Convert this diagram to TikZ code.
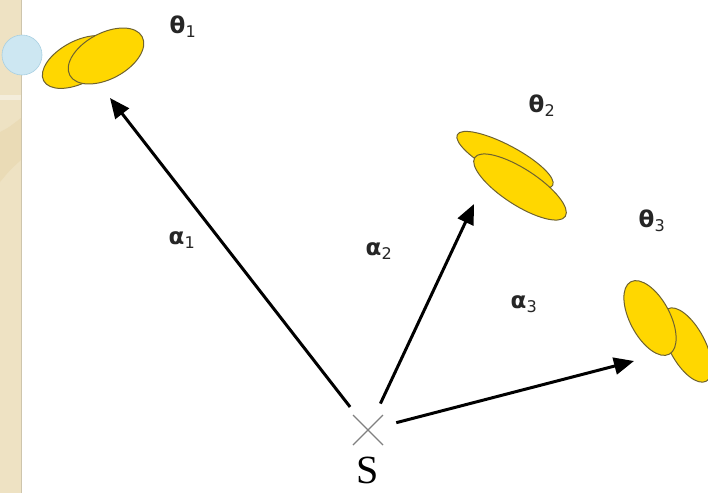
\documentclass[tikz,border=0pt]{standalone}
\usepackage{fontspec}
\setmainfont{DejaVu Sans}
\newfontfamily\serifS{Liberation Serif}
\usetikzlibrary{arrows.meta, calc}
\definecolor{StripBg}{HTML}{EEE2C3}
\definecolor{StripDark}{HTML}{EADBB6}
\definecolor{StripLine}{HTML}{CEC5AC}
\definecolor{BubbleBlue}{HTML}{CDE7F2}
\definecolor{BubbleEdge}{HTML}{A8D0E2}
\definecolor{DiscYellow}{HTML}{FFD700}
\definecolor{DiscEdge}{HTML}{6E6230}
\tikzset{
    disc/.style={fill=DiscYellow, draw=DiscEdge, line width=1pt},
    arr/.style={-{Triangle[length=20pt, width=17pt]}, line width=3pt, draw=black},
    lbl/.style={font=\fontsize{23}{26}\selectfont, text=black!85},
    crs/.style={draw=gray, line width=1.2pt},
}

\begin{document}
\begin{tikzpicture}[x=1pt, y=-1pt]
\useasboundingbox (0,0) rectangle (708,493);

% Background strip
\fill[StripBg] (0,0) rectangle (21,493);
\fill[StripDark] (0,132) .. controls (8,128) .. (21,118) -- (21,160) .. controls (10,170) .. (0,182) -- cycle;
\fill[white, opacity=0.4] (0,95) rectangle (21,100);
\draw[StripLine, line width=1pt] (21,0) -- (21,493);
\fill[BubbleBlue, draw=BubbleEdge, line width=0.6pt] (22,55) circle (20);

% Discs
\draw[disc] (79,62) ellipse [x radius=40, y radius=21, rotate=28];
\draw[disc] (106,56) ellipse [x radius=41, y radius=23, rotate=28];
\draw[disc] (505,160) ellipse [x radius=54, y radius=15, rotate=-28];
\draw[disc] (520,187) ellipse [x radius=54, y radius=18, rotate=-33];
\draw[disc] (687,345) ellipse [x radius=41, y radius=18, rotate=-62];
\draw[disc] (650,318) ellipse [x radius=41, y radius=20, rotate=-62];

% Source
\node[circle, minimum size=58pt, inner sep=0pt] (s) at (368,430) {};
\draw[crs] ($(s)+(-15,-15)$) -- ($(s)+(15,15)$);
\draw[crs] ($(s)+(15,-15)$) -- ($(s)+(-15,15)$);
\node[font=\serifS\fontsize{40}{44}\selectfont] (slbl) at (368,470) {S};

% Arrow tips
\coordinate (t1) at (110,98);
\coordinate (t2) at (474,204);
\coordinate (t3) at (634,361);

% Arrows
\draw[arr] (s) -- (t1);
\draw[arr] (s) -- (t2);
\draw[arr] (s) -- (t3);

% Labels
\node[lbl] (th1) at (183,27) {\textbf{θ}\textsubscript{1}};
\node[lbl] (th2) at (542,106) {\textbf{θ}\textsubscript{2}};
\node[lbl] (th3) at (652,221) {\textbf{θ}\textsubscript{3}};
\node[lbl] (al1) at (182,240) {\textbf{α}\textsubscript{1}};
\node[lbl] (al2) at (379,251) {\textbf{α}\textsubscript{2}};
\node[lbl] (al3) at (524,304) {\textbf{α}\textsubscript{3}};

\end{tikzpicture}
\end{document}
